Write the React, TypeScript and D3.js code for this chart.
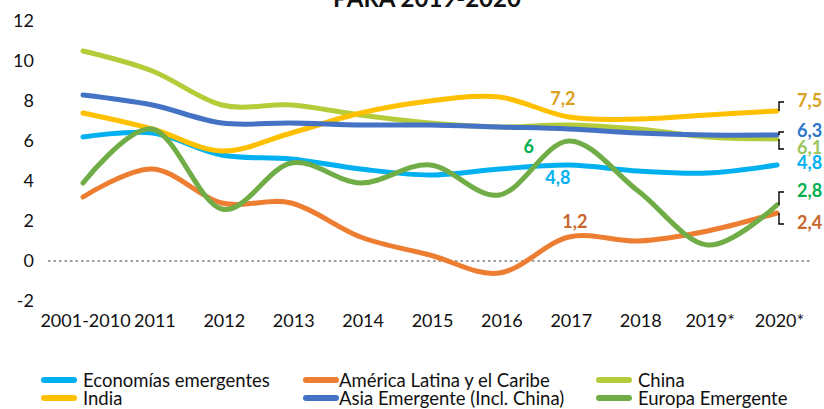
import { useEffect, useRef } from "react";
import * as d3 from "d3";

// categories + growth rates (%)
const CATEGORIES = ["2001-2010", "2011", "2012", "2013", "2014", "2015", "2016", "2017", "2018", "2019*", "2020*"];
const ECONOMIAS = [6.2, 6.4, 5.3, 5.1, 4.6, 4.3, 4.6, 4.8, 4.5, 4.4, 4.8];
const AMERICA_LATINA = [3.2, 4.6, 2.9, 2.9, 1.2, 0.3, -0.6, 1.2, 1.0, 1.5, 2.4];
const CHINA = [10.5, 9.5, 7.8, 7.8, 7.3, 6.9, 6.7, 6.8, 6.6, 6.2, 6.1];
const INDIA = [7.4, 6.6, 5.5, 6.4, 7.4, 8.0, 8.2, 7.2, 7.1, 7.3, 7.5];
const ASIA = [8.3, 7.8, 6.9, 6.9, 6.8, 6.8, 6.7, 6.6, 6.4, 6.3, 6.3];
const EUROPA = [3.9, 6.6, 2.6, 4.9, 3.9, 4.8, 3.3, 6.0, 3.5, 0.8, 2.8];
const Y_TICKS = [-2, 0, 2, 4, 6, 8, 10, 12];

const TITLE = "PARA 2019-2020";
const FONT = "Lato, 'Open Sans', sans-serif";

// drawn in this order (last on top), legend reads row by row
const SERIES = [
  { key: "eco", name: "Economías emergentes", values: ECONOMIAS, color: "#00B0F0" },
  { key: "lat", name: "América Latina y el Caribe", values: AMERICA_LATINA, color: "#ED7D31" },
  { key: "chn", name: "China", values: CHINA, color: "#B4CC3A" },
  { key: "ind", name: "India", values: INDIA, color: "#FFC000" },
  { key: "asi", name: "Asia Emergente (Incl. China)", values: ASIA, color: "#4472C4" },
  { key: "eur", name: "Europa Emergente", values: EUROPA, color: "#70AD47" },
];

// data labels: which point, text colour, and where the text sits relative to it
const LABELS = [
  { key: "ind", i: 7, color: "#D9A21E", dx: -6, dy: -18, anchor: "middle" },
  { key: "eur", i: 7, color: "#00B050", dx: -40, dy: 6, anchor: "middle" },
  { key: "eco", i: 7, color: "#00B0F0", dx: -11, dy: 13, anchor: "middle" },
  { key: "lat", i: 7, color: "#C8672B", dx: 6, dy: -15, anchor: "middle" },
  { key: "ind", i: 10, color: "#D9A21E", dx: 20, dy: -10, anchor: "start", leader: true },
  { key: "asi", i: 10, color: "#2E75CC", dx: 20, dy: -4, anchor: "start", leader: true },
  { key: "chn", i: 10, color: "#9BC55B", dx: 20, dy: 9, anchor: "start", leader: true },
  { key: "eco", i: 10, color: "#00B0F0", dx: 20, dy: -2, anchor: "start" },
  { key: "eur", i: 10, color: "#00B050", dx: 20, dy: -14, anchor: "start", leader: true },
  { key: "lat", i: 10, color: "#C8672B", dx: 20, dy: 10, anchor: "start", leader: true },
];

const W = 824;
const H = 409;

function fmt(v: number) {
  return String(v).replace(".", ",");
}

function draw(svgEl: SVGSVGElement) {
  const svg = d3.select(svgEl);
  svg.selectAll("*").remove();

  const x = d3.scalePoint<string>().domain(CATEGORIES).range([83, 777]);
  const y = d3.scaleLinear().domain([-2, 12]).range([301, 21]);

  // title (its first line is cut off by the frame)
  svg.append("text")
    .attr("x", 427).attr("y", 6.5)
    .attr("text-anchor", "middle")
    .attr("font-family", FONT)
    .attr("font-weight", "bold")
    .attr("font-size", 24)
    .attr("fill", "#111")
    .text(TITLE);

  // y axis labels
  svg.append("g")
    .attr("transform", "translate(34,0)")
    .call(d3.axisLeft(y).tickValues(Y_TICKS).tickSize(0).tickPadding(0).tickFormat(d => String(d)))
    .call(ax => {
      ax.select(".domain").remove();
      ax.selectAll("text")
        .attr("fill", "#111")
        .style("font-size", "18px")
        .style("font-family", FONT);
    });

  // x axis labels
  svg.append("g")
    .attr("transform", "translate(2,314)")
    .call(d3.axisBottom(x).tickSize(0).tickPadding(0))
    .call(ax => {
      ax.select(".domain").remove();
      ax.selectAll("text")
        .attr("fill", "#111")
        .attr("dy", "0.72em")
        .style("font-size", "18px")
        .style("font-family", FONT);
    });

  // zero line
  svg.append("line")
    .attr("x1", 48).attr("x2", 810)
    .attr("y1", y(0)).attr("y2", y(0))
    .attr("stroke", "#7F7F7F")
    .attr("stroke-width", 1.3)
    .attr("stroke-dasharray", "2.5 3");

  const line = d3.line<number>()
    .x((_, i) => x(CATEGORIES[i]) as number)
    .y(d => y(d))
    .curve(d3.curveCardinal.tension(0));

  svg.append("g")
    .selectAll("path")
    .data(SERIES)
    .join("path")
    .attr("d", d => line(d.values))
    .attr("fill", "none")
    .attr("stroke", d => d.color)
    .attr("stroke-width", 5)
    .attr("stroke-linecap", "round")
    .attr("stroke-linejoin", "round");

  // data labels + leader lines
  const lab = svg.append("g");
  LABELS.forEach(l => {
    const s = SERIES.find(d => d.key === l.key)!;
    const v = s.values[l.i];
    const px = x(CATEGORIES[l.i]) as number;
    const py = y(v);
    const ty = py + l.dy;
    if (l.leader) {
      lab.append("path")
        .attr("d", `M${px + 2},${py} L${px + 2},${ty + 1} L${px + 7},${ty + 1}`)
        .attr("fill", "none")
        .attr("stroke", "#000")
        .attr("stroke-width", 1.4);
    }
    lab.append("text")
      .attr("x", px + l.dx).attr("y", ty)
      .attr("dy", "0.36em")
      .attr("text-anchor", l.anchor)
      .attr("font-family", FONT)
      .attr("font-weight", "bold")
      .attr("font-size", 18)
      .attr("fill", l.color)
      .text(fmt(v));
  });

  // legend: 3 columns x 2 rows
  const colSwatch = [41, 303, 596];
  const colText = [83, 339, 638];
  const rowY = [380, 398];
  const leg = svg.append("g");
  SERIES.forEach((s, i) => {
    const c = i % 3;
    const r = Math.floor(i / 3);
    leg.append("line")
      .attr("x1", colSwatch[c] + 3).attr("x2", colSwatch[c] + 33)
      .attr("y1", rowY[r]).attr("y2", rowY[r])
      .attr("stroke", s.color)
      .attr("stroke-width", 6)
      .attr("stroke-linecap", "round");
    leg.append("text")
      .attr("x", colText[c]).attr("y", rowY[r])
      .attr("dy", "0.36em")
      .attr("font-family", FONT)
      .attr("font-size", 18.5)
      .attr("fill", "#111")
      .text(s.name);
  });
}

export default function App() {
  const svgRef = useRef<SVGSVGElement>(null);

  useEffect(() => {
    if (svgRef.current) draw(svgRef.current);
  }, []);

  return (
    <div style={{ position: "fixed", left: 0, top: 0, width: W, height: H, background: "#fff" }}>
      <svg ref={svgRef} width={W} height={H} style={{ display: "block" }} />
    </div>
  );
}
